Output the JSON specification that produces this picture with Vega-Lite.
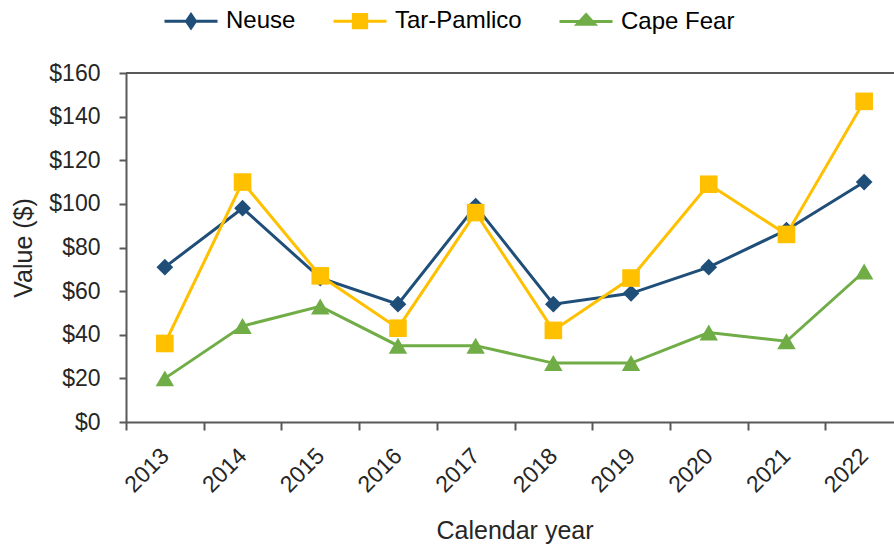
{
  "$schema": "https://vega.github.io/schema/vega-lite/v6.json",
  "width": 768,
  "height": 349,
  "autosize": {"type": "none"},
  "padding": {"left": 126, "top": 73, "right": 0, "bottom": 126},
  "background": "white",
  "config": {
    "view": {"stroke": null},
    "font": "Liberation Sans",
    "axis": {
      "domainColor": "#595959", "domainWidth": 2, "tickColor": "#595959", "tickWidth": 2,
      "labelFont": "Liberation Sans", "labelFontSize": 23, "labelColor": "#262626",
      "titleFont": "Liberation Sans", "titleFontSize": 25, "titleFontWeight": "normal", "titleColor": "#262626",
      "grid": false
    }
  },
  "resolve": {"legend": {"color": "independent"}},
  "data": {
    "values": [
      {"year": "2013", "site": "Neuse", "value": 71},
      {"year": "2014", "site": "Neuse", "value": 98},
      {"year": "2015", "site": "Neuse", "value": 66},
      {"year": "2016", "site": "Neuse", "value": 54},
      {"year": "2017", "site": "Neuse", "value": 99},
      {"year": "2018", "site": "Neuse", "value": 54},
      {"year": "2019", "site": "Neuse", "value": 59},
      {"year": "2020", "site": "Neuse", "value": 71},
      {"year": "2021", "site": "Neuse", "value": 88},
      {"year": "2022", "site": "Neuse", "value": 110},
      {"year": "2013", "site": "Tar-Pamlico", "value": 36},
      {"year": "2014", "site": "Tar-Pamlico", "value": 110},
      {"year": "2015", "site": "Tar-Pamlico", "value": 67},
      {"year": "2016", "site": "Tar-Pamlico", "value": 43},
      {"year": "2017", "site": "Tar-Pamlico", "value": 96},
      {"year": "2018", "site": "Tar-Pamlico", "value": 42},
      {"year": "2019", "site": "Tar-Pamlico", "value": 66},
      {"year": "2020", "site": "Tar-Pamlico", "value": 109},
      {"year": "2021", "site": "Tar-Pamlico", "value": 86},
      {"year": "2022", "site": "Tar-Pamlico", "value": 147},
      {"year": "2013", "site": "Cape Fear", "value": 20},
      {"year": "2014", "site": "Cape Fear", "value": 44},
      {"year": "2015", "site": "Cape Fear", "value": 53},
      {"year": "2016", "site": "Cape Fear", "value": 35},
      {"year": "2017", "site": "Cape Fear", "value": 35},
      {"year": "2018", "site": "Cape Fear", "value": 27},
      {"year": "2019", "site": "Cape Fear", "value": 27},
      {"year": "2020", "site": "Cape Fear", "value": 41},
      {"year": "2021", "site": "Cape Fear", "value": 37},
      {"year": "2022", "site": "Cape Fear", "value": 69}
    ]
  },
  "layer": [
    {
      "mark": {"type": "line", "strokeWidth": 3},
      "encoding": {
        "x": {
          "field": "year", "type": "ordinal",
          "scale": {"type": "band", "paddingInner": 0, "paddingOuter": 0, "range": [0, 777]},
          "axis": {
            "title": "Calendar year", "labelAngle": -45, "labelAlign": "right", "labelBaseline": "middle",
            "tickBand": "extent", "tickSize": 8, "labelPadding": 22, "labelOverlap": false, "labelFlush": false,
            "titleY": 108, "titleBaseline": "middle"
          }
        },
        "y": {
          "field": "value", "type": "quantitative",
          "scale": {"domain": [0, 160], "nice": false},
          "axis": {
            "title": "Value ($)", "values": [0, 20, 40, 60, 80, 100, 120, 140, 160], "format": "$.0f",
            "tickSize": 7, "labelPadding": 19, "titleX": -103, "titleBaseline": "middle"
          }
        },
        "color": {
          "field": "site", "type": "nominal",
          "scale": {"domain": ["Neuse", "Tar-Pamlico", "Cape Fear"], "range": ["#1F4E79", "#FFC000", "#70AD47"]},
          "legend": {
            "orient": "none", "legendX": 37, "legendY": -80, "direction": "horizontal", "title": null,
            "padding": 0, "symbolSize": 2809, "symbolStrokeWidth": 3, "labelFontSize": 24, "labelColor": "#000000",
            "labelFont": "Liberation Sans", "labelOffset": 7, "columnPadding": 31,
            "encode": {
              "symbols": {
                "update": {
                  "shape": {"signal": "datum.value === 'Neuse' ? 'M-1,0H1M0,-0.25L0.17,0L0,0.25L-0.17,0Z' : datum.value === 'Tar-Pamlico' ? 'M-1,0H1M-0.25,-0.25H0.25V0.25H-0.25Z' : 'M-1,0H1M0,-0.26L0.33,0.1L-0.33,0.1Z'"},
                  "fill": {"signal": "scale('color', datum.value)"},
                  "stroke": {"signal": "scale('color', datum.value)"},
                  "strokeWidth": {"value": 3},
                  "opacity": {"value": 1}
                }
              }
            }
          }
        }
      }
    },
    {
      "mark": {"type": "point", "filled": true, "opacity": 1, "strokeWidth": 0},
      "encoding": {
        "x": {"field": "year", "type": "ordinal"},
        "y": {"field": "value", "type": "quantitative"},
        "color": {"field": "site", "type": "nominal", "legend": null},
        "shape": {
          "field": "site", "type": "nominal",
          "scale": {"domain": ["Neuse", "Tar-Pamlico", "Cape Fear"], "range": ["diamond", "square", "triangle-up"]},
          "legend": null
        },
        "size": {
          "field": "site", "type": "nominal",
          "scale": {"domain": ["Neuse", "Tar-Pamlico", "Cape Fear"], "range": [280, 340, 335]},
          "legend": null
        }
      }
    },
    {
      "mark": {"type": "rule", "color": "#595959", "strokeWidth": 2},
      "encoding": {"y": {"datum": 160}}
    }
  ]
}
